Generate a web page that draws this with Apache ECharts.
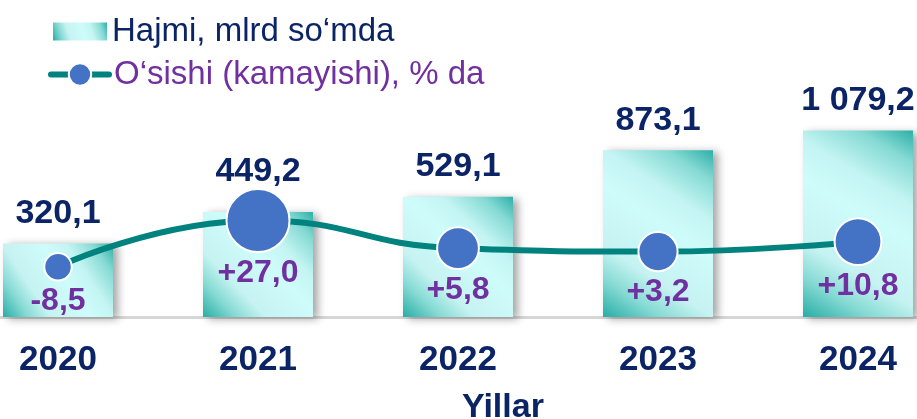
<!DOCTYPE html>
<html>
<head>
<meta charset="utf-8">
<script src="https://cdn.jsdelivr.net/npm/echarts@6/dist/echarts.min.js"></script>
<style>
  html, body { margin: 0; padding: 0; background: #fff; }
  #chart { width: 917px; height: 419px; }
</style>
</head>
<body>
<div id="chart"></div>
<script>
const years = ['2020', '2021', '2022', '2023', '2024']
const volume = [320.1, 449.2, 529.1, 873.1, 1079.2]   // Hajmi, mlrd so‘mda
const growth = [-8.5, 27.0, 5.8, 3.2, 10.8]           // O‘sishi (kamayishi), % da

const NAVY = '#0b2466'
const PURPLE = '#7030a0'
const FONT = '"Liberation Sans", Arial, sans-serif'

// 1 079,2 style numbers
const fmt = v => {
  const [i, d] = Math.abs(v).toFixed(1).split('.')
  return (v < 0 ? '-' : '') + i.replace(/\B(?=(\d{3})+(?!\d))/g, ' ') + ',' + d
}
const dotSize = v => Math.max(24, 36 + v)

const barFill = {
  type: 'linear', x: 0, y: 1, x2: 1, y2: 0,
  colorStops: [
    { offset: 0, color: '#27ada4' },
    { offset: 0.16, color: '#86dad4' },
    { offset: 0.3, color: '#c6f3f1' },
    { offset: 0.55, color: '#cefcfb' },
    { offset: 0.7, color: '#c4f5f3' },
    { offset: 0.87, color: '#86dad4' },
    { offset: 1, color: '#2cb0a8' }
  ]
}

const LEGEND_TEXT = { fontSize: 33, fontFamily: FONT }

const chart = echarts.init(document.getElementById('chart'))

// push a bar value label up when the growth dot would cover it
function liftOverDot(p) {
  const i = p.dataIndex
  const pt = chart.convertToPixel({ seriesIndex: 1 }, [i, growth[i]])
  if (!pt) return {}
  const dotTop = pt[1] - dotSize(growth[i]) / 2
  const bottom = p.labelRect.y + p.labelRect.height
  return bottom > dotTop ? { dy: dotTop - bottom } : {}
}

chart.setOption({
  animation: false,
  legend: [
    {
      left: 48, top: 10, itemWidth: 54, itemHeight: 18, itemGap: 0,
      textStyle: LEGEND_TEXT,
      data: [{ name: 'Hajmi, mlrd so‘mda', icon: 'rect', textStyle: { color: NAVY } }]
    },
    {
      left: 43, top: 53, itemWidth: 58, itemHeight: 28,
      textStyle: LEGEND_TEXT,
      data: [{
        name: 'O‘sishi (kamayishi), % da',
        textStyle: { color: PURPLE },
        lineStyle: { width: 6, cap: 'round' }
      }]
    }
  ],
  title: {
    text: 'Yillar', left: 457, top: 386,
    textStyle: { fontSize: 34, fontWeight: 'bold', color: NAVY, fontFamily: FONT }
  },
  grid: { left: -42, width: 1000, top: 100, bottom: 102, outerBoundsMode: 'none' },
  xAxis: {
    type: 'category', data: years,
    axisLine: { onZero: false, lineStyle: { color: '#d6d6d6', width: 3 } },
    axisTick: { show: false },
    axisLabel: { margin: 26, fontSize: 35, fontWeight: 'bold', color: NAVY, fontFamily: FONT }
  },
  yAxis: [
    { type: 'log', min: 145, max: 1500, show: false },
    { type: 'value', min: -47, max: 119.5, show: false }
  ],
  series: [
    {
      name: 'Hajmi, mlrd so‘mda', type: 'bar', barWidth: 110, data: volume,
      itemStyle: {
        color: barFill,
        shadowColor: 'rgba(0,0,0,0.35)', shadowBlur: 8, shadowOffsetX: 5, shadowOffsetY: 2
      },
      label: {
        show: true, position: 'top', distance: 13,
        fontSize: 34, fontWeight: 'bold', color: NAVY, fontFamily: FONT,
        formatter: p => fmt(p.value)
      },
      labelLayout: liftOverDot
    },
    {
      name: 'O‘sishi (kamayishi), % da', type: 'line', yAxisIndex: 1, data: growth,
      smooth: 0.5, symbol: 'circle',
      symbolSize: dotSize,
      lineStyle: { color: '#00827e', width: 6 },
      itemStyle: { color: '#4472c4', borderColor: '#fff', borderWidth: 2 },
      label: {
        show: true, position: 'bottom', distance: 4,
        fontSize: 32, fontWeight: 'bold', color: PURPLE, fontFamily: FONT,
        formatter: p => (p.value > 0 ? '+' : '') + fmt(p.value)
      },
      z: 3
    }
  ]
})
window.addEventListener('resize', () => chart.resize())
</script>
</body>
</html>
